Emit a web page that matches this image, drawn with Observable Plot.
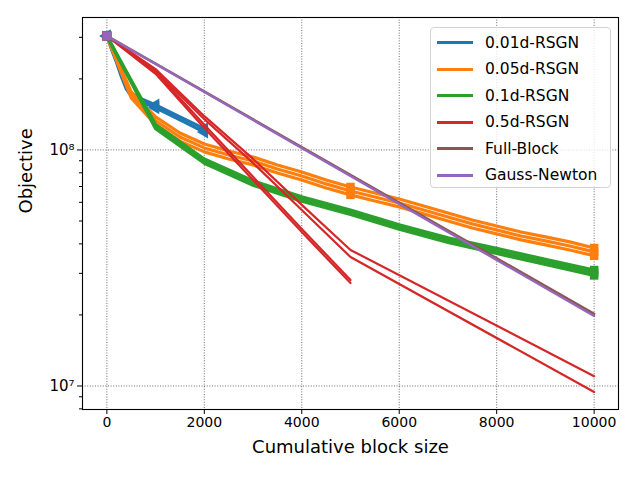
<!DOCTYPE html>
<html>
<head>
<meta charset="utf-8">
<script src="https://cdn.jsdelivr.net/npm/d3@7"></script>
<script src="https://cdn.jsdelivr.net/npm/@observablehq/plot@0.6"></script>
<style>
  body { margin: 0; background: white; }
  #wrap { position: relative; width: 640px; height: 480px; font-family: "DejaVu Sans", sans-serif; }
  #legend { position: absolute; left: 430px; top: 27px; width: 181px; height: 161px; box-sizing: border-box;
            border: 1px solid #d3d3d3; border-radius: 4px; background: rgba(255,255,255,0.8); }
  .row { position: absolute; left: 0; height: 22px; display: flex; align-items: center; font-size: 15.5px; color: #000; white-space: nowrap; }
  .swatch { margin-left: 6px; width: 36px; height: 3px; }
  .lab { margin-left: 12px; }
</style>
</head>
<body>
<div id="wrap"></div>
<script>
// ---------------- data ----------------
const methods = ["0.01d-RSGN", "0.05d-RSGN", "0.1d-RSGN", "0.5d-RSGN", "Full-Block", "Gauss-Newton"];
const colors  = ["#1f77b4", "#ff7f0e", "#2ca02c", "#d62728", "#8c564b", "#9467bd"];

const xTicks = [0, 2000, 4000, 6000, 8000, 10000];
const yMajorTicks = [1e7, 1e8];
const yMajorLabels = ["10⁷", "10⁸"];
const yMinorTicks = [8e6, 9e6, 2e7, 3e7, 4e7, 5e7, 6e7, 7e7, 8e7, 9e7, 2e8, 3e8];

// 0.01d-RSGN
const blueX = [0, 100, 200, 300, 400, 500, 700, 1000, 1500, 2000];
const blueRun1 = [3.04e8, 2.73e8, 2.41e8, 2.10e8, 1.87e8, 1.74e8, 1.65e8, 1.55e8, 1.38e8, 1.23e8];
const blueRun2 = [3.04e8, 2.65e8, 2.34e8, 2.04e8, 1.81e8, 1.69e8, 1.60e8, 1.51e8, 1.34e8, 1.19e8];
const blueMarkX = [0, 1000, 2000];

// 0.05d-RSGN
const orangeX = [0, 500, 1000, 1500, 2000, 2500, 3000, 3500, 4000, 4500, 5000, 5500, 6000, 6500, 7000, 7500, 8000, 8500, 9000, 9500, 10000];
const orangeRun1 = [3.04e8, 1.76e8, 1.38e8, 1.18e8, 1.06e8, 9.90e7, 9.34e7, 8.64e7, 8.07e7, 7.46e7, 6.97e7, 6.57e7, 6.20e7, 5.79e7, 5.41e7, 5.05e7, 4.76e7, 4.49e7, 4.28e7, 4.08e7, 3.84e7];
const orangeRun2 = [3.04e8, 1.71e8, 1.33e8, 1.135e8, 1.02e8, 9.52e7, 8.98e7, 8.31e7, 7.76e7, 7.18e7, 6.70e7, 6.32e7, 5.96e7, 5.57e7, 5.20e7, 4.86e7, 4.58e7, 4.32e7, 4.12e7, 3.92e7, 3.70e7];
const orangeRun3 = [3.04e8, 1.66e8, 1.28e8, 1.09e8, 9.81e7, 9.16e7, 8.64e7, 7.99e7, 7.46e7, 6.90e7, 6.45e7, 6.08e7, 5.74e7, 5.36e7, 5.00e7, 4.67e7, 4.41e7, 4.16e7, 3.96e7, 3.77e7, 3.56e7];
const orangeMarkX = [0, 5000, 10000];

// 0.1d-RSGN
const greenX = [0, 1000, 2000, 3000, 4000, 5000, 6000, 7000, 8000, 9000, 10000];
const greenRun1 = [3.04e8, 1.28e8, 9.15e7, 7.40e7, 6.33e7, 5.57e7, 4.82e7, 4.24e7, 3.83e7, 3.44e7, 3.10e7];
const greenRun2 = [3.04e8, 1.25e8, 8.98e7, 7.25e7, 6.20e7, 5.46e7, 4.72e7, 4.16e7, 3.73e7, 3.35e7, 3.02e7];
const greenRun3 = [3.04e8, 1.23e8, 8.78e7, 7.08e7, 6.06e7, 5.33e7, 4.61e7, 4.06e7, 3.64e7, 3.27e7, 2.94e7];
const greenMarkX = [0, 10000];

// 0.5d-RSGN
const redShortX = [0, 1000, 2000, 3000, 4000, 5000];
const redShortRun1 = [3.04e8, 2.10e8, 1.24e8, 7.46e7, 4.49e7, 2.73e7];
const redShortRun2 = [3.04e8, 2.14e8, 1.28e8, 7.69e7, 4.63e7, 2.81e7];
const redLongX = [0, 1000, 2000, 3000, 4000, 5000, 10000];
const redLongRun1 = [3.04e8, 2.20e8, 1.39e8, 9.16e7, 5.85e7, 3.77e7, 1.10e7];
const redLongRun2 = [3.04e8, 2.16e8, 1.35e8, 8.81e7, 5.57e7, 3.52e7, 9.43e6];
const redMarkX = [0];

// Full-Block and Gauss-Newton
const fullX = [0, 10000];
const fullY = [3.04e8, 2.02e7];
const gnX = [0, 10000];
const gnY = [3.04e8, 1.98e7];
const singleMarkX = [0];

// ---------------- build rows ----------------
function rows(method, xs, runs) {
  return runs.flatMap((ys, r) => ys.map((y, i) => ({method, run: method + "#" + r, x: xs[i], y})));
}
const series = [
  {m: 0, data: rows(methods[0], blueX, [blueRun1, blueRun2]), mark: blueMarkX, symbol: "triangle", rotate: -90, r: 4.8, w: 3.2},
  {m: 1, data: rows(methods[1], orangeX, [orangeRun1, orangeRun2, orangeRun3]), mark: orangeMarkX, symbol: "square", r: 4.8, w: 3.2},
  {m: 2, data: rows(methods[2], greenX, [greenRun1, greenRun2, greenRun3]), mark: greenMarkX, symbol: "square", r: 4.8, w: 3.2},
  {m: 3, data: rows(methods[3], redShortX, [redShortRun1, redShortRun2]).concat(rows(methods[3] + "L", redLongX, [redLongRun1, redLongRun2])), mark: redMarkX, symbol: "square", r: 4.5, w: 2.2},
  {m: 4, data: rows(methods[4], fullX, [fullY]), mark: singleMarkX, symbol: "square", r: 5.4, w: 2.6},
  {m: 5, data: rows(methods[5], gnX, [gnY]), mark: singleMarkX, symbol: "square", r: 5, w: 2.4}
];

const seriesMarks = series.flatMap(s => {
  const col = colors[s.m];
  const pts = s.data.filter(d => s.mark.includes(d.x));
  return [
    Plot.line(s.data, {x: "x", y: "y", z: "run", stroke: col, strokeWidth: s.w, strokeLinejoin: "round"}),
    Plot.dot(pts, {x: "x", y: "y", symbol: () => s.symbol, r: s.r, fill: col, stroke: "none", rotate: s.rotate || 0})
  ];
});

const chart = Plot.plot({
  width: 640,
  height: 480,
  marginLeft: 82,
  marginRight: 22,
  marginTop: 17,
  marginBottom: 71,
  x: {domain: [-500, 10500]},
  y: {type: "log", domain: [7.95e6, 3.64e8]},
  style: {fontFamily: "DejaVu Sans", fontSize: "14px", color: "black", background: "white"},
  marks: [
    Plot.gridX(xTicks, {stroke: "#333", strokeOpacity: 0.9, strokeWidth: 0.8, strokeDasharray: "1,1.6"}),
    Plot.gridY(yMajorTicks, {stroke: "#333", strokeOpacity: 0.9, strokeWidth: 0.8, strokeDasharray: "1,1.6"}),
    Plot.axisX(xTicks, {tickSize: 5, tickPadding: 3, label: null, tickFormat: d => String(d), fontSize: 14}),
    Plot.axisY(yMajorTicks, {tickSize: 5, tickPadding: 3, label: null, tickFormat: d => yMajorLabels[yMajorTicks.indexOf(d)], fontSize: 15}),
    Plot.axisY(yMinorTicks, {tickSize: 3, label: null, tickFormat: () => ""}),
    ...seriesMarks,
    Plot.frame({stroke: "black", strokeWidth: 1.1}),
    Plot.text(["Cumulative block size"], {frameAnchor: "bottom", dy: 43, fontSize: 18}),
    Plot.text(["Objective"], {frameAnchor: "left", dx: -56, rotate: -90, fontSize: 18})
  ]
});

const wrap = document.getElementById("wrap");
wrap.appendChild(chart);

// legend
const legend = document.createElement("div");
legend.id = "legend";
methods.forEach((name, i) => {
  const row = document.createElement("div");
  row.className = "row";
  row.style.top = (3.7 + 26.5 * i) + "px";
  const sw = document.createElement("div");
  sw.className = "swatch";
  sw.style.background = colors[i];
  const lab = document.createElement("span");
  lab.className = "lab";
  lab.textContent = name;
  row.appendChild(sw);
  row.appendChild(lab);
  legend.appendChild(row);
});
wrap.appendChild(legend);
</script>
</body>
</html>
